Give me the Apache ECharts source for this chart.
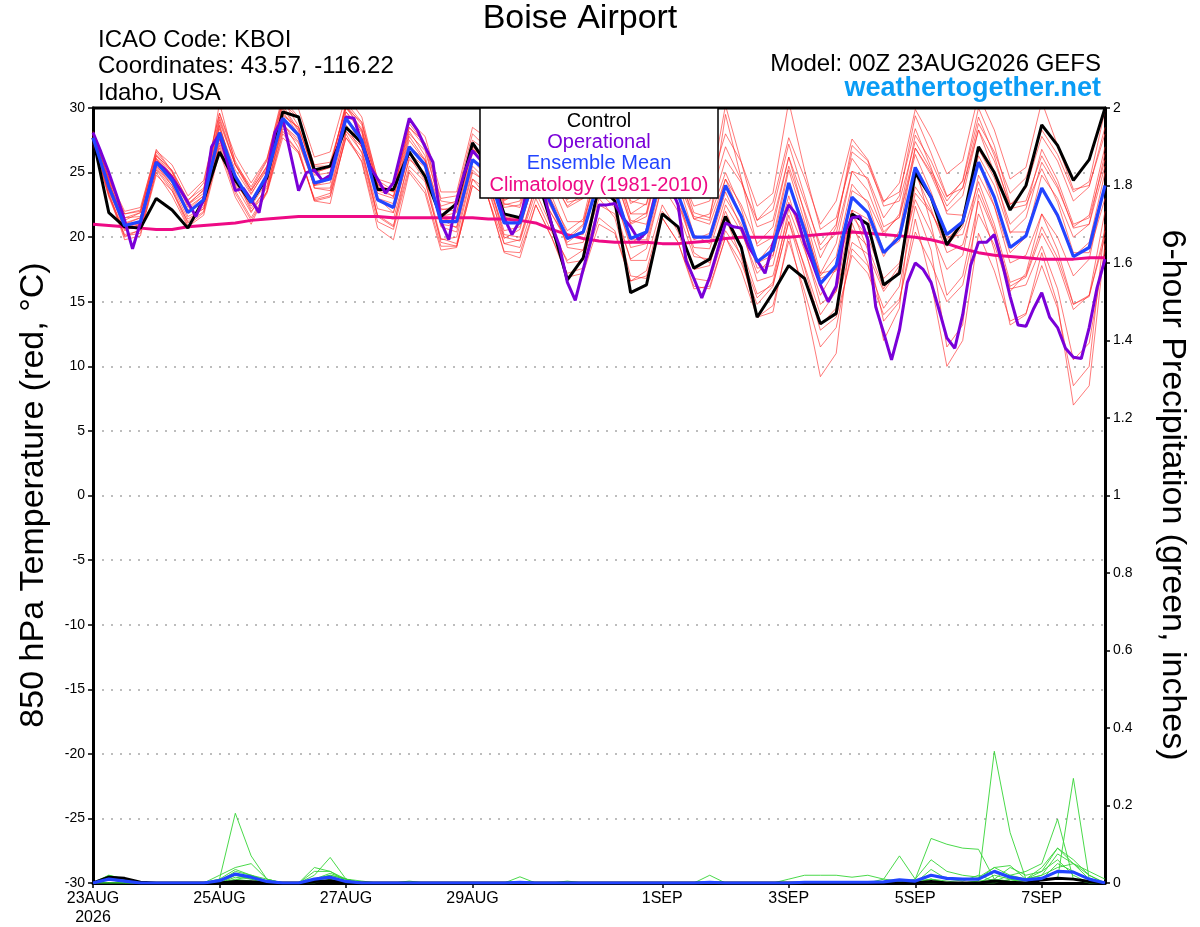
<!DOCTYPE html>
<html>
<head>
<meta charset="utf-8">
<title>Boise Airport</title>
<script src="https://cdn.jsdelivr.net/npm/echarts@6.0.0/dist/echarts.min.js"></script>
<style>
html,body{margin:0;padding:0;background:#fff;}
#chart{width:1200px;height:927px;}
</style>
</head>
<body>
<div id="chart"></div>
<script>
// 3-hourly slots, 00Z 23AUG2026 to 00Z 08SEP2026
var hourCats = [];
for (var h = 0; h <= 384; h += 3) hourCats.push(String(h));

var tickHours = [0, 48, 96, 144, 216, 264, 312, 360];
var tickLabels = ['23AUG\n2026', '25AUG', '27AUG', '29AUG', '1SEP', '3SEP', '5SEP', '7SEP'];

/* 850 hPa temperature, 6-hourly (65 points) */
var tCtrl = [27.7,21.9,20.8,20.7, 23.0,22.1,20.7,22.9, 26.6,24.4,22.7,24.6, 29.7,29.3,25.2,25.5,
             28.5,27.3,23.7,23.7, 26.6,24.7,21.6,22.6, 27.3,25.5,21.8,21.5, 25.0,21.0,16.7,18.4,
             24.0,22.8,15.7,16.3, 21.8,20.8,17.6,18.3, 21.6,19.2,13.8,15.7, 17.8,16.8,13.3,14.1,
             21.8,21.0,16.3,17.2, 25.0,23.1,19.4,21.2, 27.0,25.0,22.1,24.0, 28.7,27.1,24.4,26.0,
             30.0];
var tMean = [27.7,23.9,20.9,21.2, 25.8,24.4,21.9,22.9, 28.1,24.7,22.7,24.8, 29.2,27.9,24.2,24.5,
             29.2,27.5,22.9,22.3, 27.0,25.6,21.2,21.2, 26.0,25.0,21.1,21.1, 25.0,22.5,19.9,20.4,
             24.5,23.6,19.9,20.4, 25.0,23.3,20.0,20.0, 24.0,21.6,18.1,19.0, 24.2,20.5,16.4,17.8,
             23.1,21.9,18.8,20.0, 25.4,23.1,20.2,21.2, 25.8,23.1,19.2,20.1, 23.8,21.7,18.5,19.2,
             24.0];
var tClim = [21.0,20.9,20.8,20.7, 20.6,20.6,20.8,20.9, 21.0,21.1,21.3,21.4, 21.5,21.6,21.6,21.6,
             21.6,21.6,21.6,21.5, 21.5,21.5,21.5,21.5, 21.5,21.4,21.4,21.3, 21.1,20.6,20.2,19.9,
             19.7,19.6,19.6,19.6, 19.5,19.5,19.6,19.7, 19.9,20.0,20.0,20.0, 20.0,20.1,20.2,20.3,
             20.4,20.3,20.2,20.1, 20.0,19.8,19.5,19.1, 18.8,18.6,18.5,18.4, 18.3,18.3,18.3,18.4,
             18.4];
/* operational run, 3-hourly (129 points) */
var tOper = [28.1,26.6,25.0,23.2,21.3,19.1,21.1,23.5, 25.8,25.3,24.6,23.7,22.7,21.6,22.9,27.0,
             28.0,25.8,23.6,23.8,22.9,21.9,25.0,28.1, 29.2,26.4,23.6,25.0,25.2,24.4,24.8,27.0,
             29.3,29.2,27.3,25.5,24.5,23.4,24.2,26.7, 29.2,28.3,27.0,25.8,21.2,19.8,22.9,25.0,
             26.7,26.0,25.0,23.5,21.5,20.2,21.3,24.0, 24.5,23.5,21.0,19.3,16.5,15.1,17.5,19.8,
             22.5,22.5,22.6,21.5,20.8,19.8,20.4,23.0, 24.5,24.0,22.5,18.2,16.8,15.3,16.9,19.0,
             21.1,20.8,20.7,19.2,18.2,17.2,19.5,21.0, 22.5,21.7,19.5,18.0,16.3,15.0,16.2,20.3,
             21.5,21.6,19.8,14.6,12.6,10.5,12.8,16.5, 18.0,17.5,16.5,14.4,12.2,11.4,14.0,17.8,
             19.6,19.6,20.2,18.0,15.4,13.2,13.1,14.5, 15.7,13.8,13.0,11.4,10.7,10.6,13.0,16.1,
             18.3];

/* ensemble members, 6-hourly */
var ens01 = [28.0,24.5,21.5,21.9, 26.6,25.1,22.9,23.8, 29.3,25.6,23.6,25.5, 30.6,28.6,24.8,25.0,
             29.7,28.1,23.6,23.2, 28.0,26.7,22.4,22.8, 27.5,26.6,22.9,23.3, 27.0,24.7,22.3,23.0,
             27.0,26.3,22.6,23.3, 28.0,26.5,23.3,23.5, 30.2,25.8,21.3,22.1, 27.2,23.2,19.0,20.3,
             25.1,23.6,20.4,21.6, 26.9,24.8,22.0,23.2, 28.3,25.9,22.5,23.8, 27.8,25.9,22.8,23.9,
             28.5];
var ens02 = [27.4,23.3,20.2,20.5, 25.3,23.8,21.1,22.0, 27.1,23.6,21.5,23.5, 28.0,26.6,22.8,23.1,
             27.7,25.9,21.2,20.6, 25.2,23.7,19.3,19.3, 24.0,23.0,18.9,18.8, 22.5,20.0,17.2,17.6,
             21.5,20.5,16.6,17.0, 21.5,19.6,16.0,16.2, 20.0,17.4,13.8,14.7, 19.7,15.8,11.5,13.0,
             19.1,17.8,14.5,16.2, 22.4,19.0,11.5,13.2, 23.3,20.4,16.2,16.9, 20.3,18.0,14.4,15.5,
             22.0];
var ens03 = [27.9,24.3,21.1,21.5, 26.3,24.8,22.0,22.8, 28.1,24.5,22.4,24.3, 28.7,27.6,24.1,24.8,
             29.7,28.3,24.0,23.6, 28.5,27.3,23.0,23.2, 28.0,26.8,22.6,22.3, 26.0,23.2,20.2,20.2,
             24.5,23.2,19.2,19.5, 24.0,22.0,18.5,18.3, 22.0,19.2,15.6,16.3, 21.2,17.0,12.8,13.8,
             18.6,17.2,14.0,15.2, 20.4,18.0,15.0,16.3, 21.8,19.4,15.8,17.2, 21.8,20.0,17.0,18.3,
             24.0];
var ens04 = [27.5,24.0,21.0,21.5, 26.0,24.8,22.5,23.7, 28.9,25.6,23.7,25.9, 30.4,29.2,25.6,25.8,
             30.0,28.9,24.1,23.1, 27.5,25.9,21.0,20.8, 25.5,24.3,20.0,19.7, 23.5,20.8,18.0,18.2,
             22.5,21.8,18.3,19.1, 24.0,22.6,19.8,20.3, 24.5,22.5,19.5,20.8, 26.2,22.8,19.4,21.0,
             26.6,25.6,22.7,24.2, 29.9,27.7,24.9,25.9, 31.0,28.3,24.5,25.4, 30.5,27.1,23.7,24.0,
             28.0];
var ens05 = [28.1,23.5,20.0,20.6, 25.0,23.2,20.8,21.7, 26.6,23.1,21.0,23.6, 28.7,27.4,24.0,24.8,
             30.0,28.4,23.9,23.5, 28.8,27.2,22.8,22.6, 27.0,25.7,21.6,21.0, 24.5,22.2,20.0,21.0,
             26.0,25.3,21.8,22.6, 27.5,25.6,21.9,21.5, 25.0,22.2,18.0,18.6, 23.2,19.2,14.8,15.8,
             20.6,19.3,16.0,17.8, 23.9,22.0,19.3,20.8, 26.3,24.0,20.3,21.5, 25.8,23.8,20.8,21.7,
             27.0];
var ens06 = [27.7,24.1,21.3,21.9, 26.3,25.2,22.8,24.2, 29.6,26.3,24.2,26.1, 30.7,29.3,25.5,25.5,
             30.2,28.2,23.0,21.9, 26.5,24.7,19.9,19.5, 24.5,23.0,18.8,18.4, 22.5,20.0,16.9,17.2,
             21.0,20.3,16.6,17.4, 22.0,20.7,17.5,17.8, 22.5,20.4,17.2,18.5, 24.2,20.9,17.0,18.5,
             24.1,22.6,18.9,19.7, 24.9,22.2,18.8,19.4, 23.8,20.6,16.0,16.3, 19.3,16.0,10.5,11.8,
             19.0];
var ens07 = [27.2,23.1,20.1,20.3, 24.8,23.6,21.2,22.4, 27.6,24.4,22.6,24.9, 29.5,28.5,25.0,25.4,
             30.4,28.9,24.5,24.1, 29.0,27.8,23.5,23.5, 28.5,27.6,23.8,24.0, 28.0,25.5,22.7,23.0,
             27.0,25.8,21.8,21.8, 26.5,24.3,20.2,19.5, 23.5,20.7,16.6,17.0, 21.7,17.6,13.2,14.5,
             19.6,18.7,15.8,17.5, 23.4,21.9,19.8,21.2, 26.8,24.6,21.0,22.2, 26.8,24.4,21.0,21.5,
             26.0];
var ens08 = [28.0,24.6,21.8,22.1, 26.8,25.1,22.3,23.2, 28.6,24.6,22.0,23.5, 28.2,26.6,22.9,23.2,
             27.7,26.2,21.6,21.4, 26.0,25.0,21.3,21.5, 26.5,25.9,22.3,22.5, 26.5,24.5,22.4,23.4,
             29.5,27.8,23.2,23.8, 30.5,27.6,23.8,24.0, 28.0,25.8,22.4,23.4, 30.5,25.2,20.6,21.5,
             26.1,24.4,20.8,21.5, 26.4,23.5,20.0,20.2, 24.3,21.0,16.5,17.0, 20.8,18.4,14.8,15.5,
             20.0];
var ens09 = [27.6,23.7,20.7,21.1, 25.5,24.2,22.1,23.2, 28.4,25.2,23.3,25.4, 30.0,28.2,23.8,23.8,
             28.7,26.5,21.7,20.9, 25.5,24.3,19.8,20.0, 25.0,24.2,20.5,20.8, 25.0,22.3,19.4,19.6,
             23.5,22.3,18.2,18.2, 22.5,20.4,16.8,16.6, 20.5,18.6,15.3,16.5, 22.2,19.0,15.5,17.6,
             23.6,22.8,20.2,21.8, 27.9,25.9,23.1,24.3, 29.3,26.3,22.2,22.5, 25.3,22.7,18.8,18.8,
             23.0];
var ens10 = [28.2,24.3,21.1,21.0, 26.1,24.5,21.6,22.2, 27.6,24.0,21.9,24.0, 28.4,27.3,24.0,24.5,
             29.2,27.8,23.4,23.0, 27.8,26.0,20.8,20.4, 25.2,24.0,19.5,19.2, 23.0,20.4,18.2,19.0,
             23.5,23.0,19.5,20.4, 25.5,24.3,21.4,21.8, 26.0,24.2,21.3,22.7, 27.7,24.6,21.0,22.8,
             27.6,26.0,22.8,23.5, 28.4,25.4,21.8,21.7, 25.8,22.4,18.0,18.6, 21.8,19.0,14.8,15.4,
             20.5];
var ens11 = [27.4,24.4,21.8,22.0, 26.4,25.0,22.6,23.6, 29.1,25.6,23.4,25.2, 29.7,28.0,23.8,23.6,
             28.2,26.6,22.2,21.9, 26.5,25.4,21.6,21.9, 26.8,26.0,22.5,22.8, 27.0,24.2,21.2,21.2,
             25.5,24.2,19.8,19.8, 24.5,22.6,19.2,19.1, 23.0,21.0,18.0,19.6, 25.2,21.2,16.8,17.4,
             22.1,19.0,13.5,15.0, 21.4,16.5,10.0,12.0, 20.3,17.4,13.5,14.1, 17.8,14.5,8.5,10.0,
             21.0];
var ens12 = [27.8,23.3,19.8,20.1, 25.2,23.6,20.9,21.9, 26.9,23.4,21.3,23.4, 27.7,26.5,23.0,23.4,
             28.2,27.0,23.0,22.6, 27.0,26.0,22.1,22.4, 27.0,25.8,21.6,21.4, 25.5,22.8,19.2,19.0,
             23.0,21.5,17.0,16.8, 21.5,19.6,16.2,16.0, 20.0,18.0,14.8,16.2, 21.2,17.8,14.0,15.8,
             22.1,21.4,18.5,20.5, 26.9,25.0,22.4,23.8, 28.8,26.6,23.4,24.6, 28.3,26.4,23.5,24.3,
             29.8];
var ens13 = [27.9,24.6,22.0,22.3, 26.7,25.6,23.2,24.4, 29.6,25.9,23.6,25.5, 30.2,28.3,24.0,24.2,
             29.4,26.9,21.6,20.8, 26.2,24.4,19.6,19.3, 24.0,23.0,19.5,19.8, 24.0,21.8,19.6,20.5,
             25.0,24.8,21.0,21.6, 26.5,25.3,22.4,22.8, 27.0,24.4,20.8,21.3, 26.2,21.8,17.2,17.5,
             21.6,20.0,16.8,18.0, 22.9,20.4,17.5,18.6, 24.8,22.4,18.8,20.0, 24.8,23.0,20.0,21.0,
             26.5];
var ens14 = [27.3,23.6,20.6,21.0, 25.6,24.0,21.4,22.2, 27.3,24.1,22.6,24.9, 29.4,28.5,25.0,25.4,
             30.2,28.7,24.1,23.5, 28.2,26.3,21.4,20.7, 26.0,24.5,20.2,20.0, 24.0,21.8,19.8,20.9,
             25.5,24.8,21.1,21.9, 27.0,25.0,21.4,21.0, 24.5,21.6,17.6,17.8, 22.7,19.8,17.2,19.5,
             25.1,24.6,21.5,23.2, 29.4,26.5,23.2,23.8, 28.3,25.0,20.4,20.4, 23.8,21.5,18.5,19.6,
             25.0];
var ens15 = [27.7,24.2,21.5,21.6, 26.1,24.8,22.5,23.4, 28.7,24.6,22.2,23.8, 28.9,26.9,22.8,22.6,
             28.0,25.8,20.7,19.8, 25.0,23.4,19.0,19.2, 24.5,23.6,19.9,20.6, 25.0,22.8,20.5,21.4,
             26.5,25.4,21.3,21.0, 25.5,23.2,18.8,18.0, 21.5,18.4,13.8,14.2, 20.2,15.2,9.2,11.0,
             21.1,18.0,12.0,14.5, 25.4,21.0,15.5,17.0, 22.8,19.0,13.2,14.0, 18.8,14.8,7.0,8.5,
             19.5];
var ens16 = [27.5,23.2,20.5,21.0, 25.4,24.0,21.9,23.0, 30.4,25.7,23.9,26.0, 31.0,29.9,26.2,26.6,
             31.0,29.3,24.4,23.6, 28.5,27.0,22.2,22.0, 26.8,26.0,22.8,23.6, 27.5,25.0,22.9,23.9,
             30.5,27.5,22.8,22.5, 26.8,25.0,21.6,21.3, 29.5,24.5,19.3,20.0, 25.5,22.0,18.4,20.8,
             27.1,25.9,22.4,22.8, 27.4,25.2,22.8,24.4, 30.0,27.1,22.6,22.8, 26.3,24.0,20.7,21.0,
             25.5];

/* 6-hour precipitation (inches), 6-hourly */
var pcp01 = [0,0.02,0.01,0,0,0,0,0,0.01,0.18,0.07,0.01,0,0,0.01,0.02,
             0.01,0,0,0,0,0,0,0,0,0,0,0,0,0,0,0,
             0,0,0,0,0,0,0,0,0,0,0,0,0,0,0,0,
             0,0,0,0,0,0.01,0,0,0.005,0.34,0.13,0.01,0.03,0.06,0.02,0,
             0];
var pcp02 = [0,0.015,0.005,0,0,0,0,0,0.02,0.04,0.05,0.01,0,0,0.04,0.03,
             0.01,0,0,0,0,0,0,0,0,0,0,0,0,0,0,0,
             0,0,0,0,0,0,0,0,0,0,0,0,0,0,0,0,
             0,0,0,0,0.01,0.115,0.1,0.09,0.087,0.01,0.04,0.02,0.03,0.09,0.05,0.01,
             0];
var pcp03 = [0,0.01,0,0,0,0,0,0,0.01,0.035,0.02,0.005,0,0,0.02,0.066,
             0.01,0.005,0,0,0,0,0,0,0,0,0,0,0,0,0,0,
             0,0,0,0,0,0,0,0.02,0,0,0,0,0,0,0,0,
             0,0,0,0,0,0.035,0.01,0.005,0.02,0.005,0.02,0.03,0.05,0.165,0.01,0,
             0];
var pcp04 = [0,0,0,0,0,0,0,0,0.005,0.03,0.02,0.01,0,0,0.03,0.03,
             0.005,0,0,0,0,0,0,0,0,0,0,0.016,0,0,0,0,
             0,0,0,0,0,0,0,0,0,0,0,0,0.01,0.02,0.02,0.02,
             0.015,0.02,0.01,0.005,0,0,0,0,0,0,0.01,0.005,0.01,0.01,0.27,0.01,
             0];
var pcp05 = [0,0.02,0.01,0,0,0,0,0,0,0.02,0.01,0,0,0,0.01,0.025,
             0.01,0,0,0,0,0,0,0,0,0,0,0,0,0,0,0,
             0,0,0,0,0,0,0,0,0,0,0,0,0,0,0,0,
             0,0,0.01,0.07,0.01,0.06,0.03,0.02,0.015,0.04,0.045,0.01,0.04,0.09,0.06,0.02,
             0];
var pcp06 = [0,0,0,0,0,0,0,0,0,0.015,0.01,0,0,0,0.005,0.015,
             0.005,0,0,0,0,0,0,0,0,0,0,0,0,0,0.005,0,
             0,0,0,0,0,0,0,0,0,0,0,0,0,0,0,0,
             0,0,0,0,0,0.02,0.01,0.01,0.01,0.04,0.02,0.01,0.02,0.075,0.05,0.02,
             0];
var pcp07 = [0,0.01,0.005,0,0,0,0,0,0,0.01,0.005,0,0,0,0,0.01,
             0,0,0,0,0.005,0,0,0,0,0,0,0,0,0,0,0,
             0,0,0,0,0,0,0,0,0,0,0,0,0,0,0,0,
             0,0,0,0,0,0.01,0,0,0,0.02,0.01,0,0.01,0.05,0.03,0.01,
             0];
var pcp08 = [0,0,0,0,0,0,0,0,0,0.008,0.02,0.005,0,0,0.01,0.02,
             0.01,0,0,0,0,0,0,0,0,0,0,0,0,0,0,0,
             0,0,0,0,0,0,0,0,0,0,0,0,0,0,0,0,
             0,0,0,0.005,0.005,0.01,0.005,0,0.005,0.01,0.005,0.01,0.02,0.04,0.05,0.03,
             0.01];
var pcpMean = [0,0.01,0.005,0,0,0,0,0,0.006,0.023,0.015,0.004,0,0,0.01,0.015,
               0.004,0,0,0,0,0,0,0,0,0,0,0.002,0,0,0,0,
               0,0,0,0,0,0,0,0.002,0,0,0,0,0,0.002,0.002,0.002,
               0.002,0.002,0.003,0.008,0.005,0.02,0.012,0.01,0.01,0.03,0.015,0.008,0.012,0.03,0.028,0.01,
               0];
var pcpCtrl = [0,0.015,0.012,0.002,0,0,0,0,0,0.004,0.003,0,0,0,0.004,0.006,
               0.002,0,0,0,0,0,0,0,0,0,0,0,0,0,0,0,
               0,0,0,0,0,0,0,0,0,0,0,0,0,0,0,0,
               0,0,0,0,0,0.004,0,0,0,0.005,0.002,0,0.008,0.012,0.01,0.004,
               0];

var ensTemp = [ens01,ens02,ens03,ens04,ens05,ens06,ens07,ens08,ens09,ens10,ens11,ens12,ens13,ens14,ens15,ens16];
var ensPcp = [pcp01,pcp02,pcp03,pcp04,pcp05,pcp06,pcp07,pcp08];

var FONT = 'Liberation Sans, Arial, Helvetica, sans-serif';
var tickIdx = tickHours.map(function(h){ return h / 3; });

// 6-hourly values sit on every second 3-hourly slot
function six(vals){
    return vals.map(function(v, k){ return [2 * k, v]; });
}

var seri = [];
for (var i = 0; i < ensTemp.length; i++) {
    seri.push({name:'ens' + (i + 1), type:'line', yAxisIndex:0, data:six(ensTemp[i]), symbol:'none',
        silent:true, z:2, lineStyle:{color:'rgba(255,40,40,0.78)', width:0.8}});
}
for (var j = 0; j < ensPcp.length; j++) {
    seri.push({name:'pcp' + (j + 1), type:'line', yAxisIndex:1, data:six(ensPcp[j]), symbol:'none',
        silent:true, z:3, lineStyle:{color:'#35d535', width:0.9}});
}
seri.push({name:'Climatology', type:'line', yAxisIndex:0, data:six(tClim), symbol:'none', z:4,
    lineStyle:{color:'#ee0a85', width:3}});
seri.push({name:'Control', type:'line', yAxisIndex:0, data:six(tCtrl), symbol:'none', z:5,
    lineStyle:{color:'#000', width:3}});
seri.push({name:'Operational', type:'line', yAxisIndex:0, data:tOper, symbol:'none', z:6,
    lineStyle:{color:'#7a00d8', width:3}});
seri.push({name:'Ensemble Mean', type:'line', yAxisIndex:0, data:six(tMean), symbol:'none', z:7,
    lineStyle:{color:'#2244ff', width:3.2}});
seri.push({name:'Control pcp', type:'line', yAxisIndex:1, data:six(pcpCtrl), symbol:'none', z:6,
    lineStyle:{color:'#000', width:3}});
seri.push({name:'Mean pcp', type:'line', yAxisIndex:1, data:six(pcpMean), symbol:'none', z:7,
    lineStyle:{color:'#2244ff', width:3.2}});

var option = {
    animation:false,
    backgroundColor:'#fff',
    textStyle:{fontFamily:FONT},
    grid:{left:93, right:95, top:108, bottom:44, show:false},
    xAxis:{
        type:'category', data:hourCats, boundaryGap:false,
        axisLine:{onZero:false, lineStyle:{color:'#000', width:3}},
        axisTick:{interval:function(idx){ return tickIdx.indexOf(idx) >= 0; }, length:5, lineStyle:{color:'#000', width:1.5}},
        axisLabel:{interval:function(idx){ return tickIdx.indexOf(idx) >= 0; },
            formatter:function(v, idx){ var k = tickIdx.indexOf(idx); return k >= 0 ? tickLabels[k] : ''; },
            color:'#000', fontSize:16, lineHeight:19, margin:6, fontFamily:FONT},
        splitLine:{show:false}
    },
    yAxis:[
        {type:'value', position:'left', min:-30, max:30, interval:5,
         axisLine:{show:true, lineStyle:{color:'#000', width:3}},
         axisTick:{show:true, length:5, lineStyle:{color:'#000', width:1.5}},
         axisLabel:{color:'#000', fontSize:14, margin:8, fontFamily:FONT},
         splitLine:{show:true, showMinLine:false, showMaxLine:false, lineStyle:{color:'#a8a8a8', width:1.5, type:[2, 7]}}},
        {type:'value', position:'right', min:0, max:2, interval:0.2,
         axisLine:{show:true, lineStyle:{color:'#000', width:3}},
         axisTick:{show:true, length:5, lineStyle:{color:'#000', width:1.5}},
         axisLabel:{color:'#000', fontSize:14, margin:8, fontFamily:FONT},
         splitLine:{show:false}}
    ],
    graphic:[
        {type:'line', z:90, shape:{x1:92, y1:108, x2:1106, y2:108}, style:{stroke:'#000', lineWidth:3}},
        {type:'text', x:580, y:19, z:100, style:{text:'Boise Airport', font:'34px ' + FONT, fill:'#000', textAlign:'center', textVerticalAlign:'middle'}},
        {type:'text', x:98, y:40, z:100, style:{text:'ICAO Code: KBOI', font:'24px ' + FONT, fill:'#000', textVerticalAlign:'middle'}},
        {type:'text', x:98, y:66, z:100, style:{text:'Coordinates: 43.57, -116.22', font:'24px ' + FONT, fill:'#000', textVerticalAlign:'middle'}},
        {type:'text', x:98, y:93, z:100, style:{text:'Idaho, USA', font:'24px ' + FONT, fill:'#000', textVerticalAlign:'middle'}},
        {type:'text', x:1101, y:64, z:100, style:{text:'Model: 00Z 23AUG2026 GEFS', font:'24px ' + FONT, fill:'#000', textAlign:'right', textVerticalAlign:'middle'}},
        {type:'text', x:1101, y:89, z:100, style:{text:'weathertogether.net', font:'bold 27px ' + FONT, fill:'#0a9cf5', textAlign:'right', textVerticalAlign:'middle'}},
        {type:'rect', z:100, shape:{x:480, y:108, width:238, height:90}, style:{fill:'#fff', stroke:'#000', lineWidth:1.5}},
        {type:'text', x:599, y:121, z:101, style:{text:'Control', font:'20px ' + FONT, fill:'#000', textAlign:'center', textVerticalAlign:'middle'}},
        {type:'text', x:599, y:142, z:101, style:{text:'Operational', font:'20px ' + FONT, fill:'#7a00d8', textAlign:'center', textVerticalAlign:'middle'}},
        {type:'text', x:599, y:163, z:101, style:{text:'Ensemble Mean', font:'20px ' + FONT, fill:'#2244ff', textAlign:'center', textVerticalAlign:'middle'}},
        {type:'text', x:599, y:185, z:101, style:{text:'Climatology (1981-2010)', font:'20px ' + FONT, fill:'#ee0a85', textAlign:'center', textVerticalAlign:'middle'}},
        {type:'text', x:34, y:495, rotation:Math.PI / 2, z:100, style:{text:'850 hPa Temperature (red, °C)', font:'34px ' + FONT, fill:'#000', textAlign:'center', textVerticalAlign:'middle'}},
        {type:'text', x:1172, y:495, rotation:-Math.PI / 2, z:100, style:{text:'6-hour Precipitation (green, inches)', font:'34px ' + FONT, fill:'#000', textAlign:'center', textVerticalAlign:'middle'}}
    ],
    series:seri
};

var myChart = echarts.init(document.getElementById('chart'), null, {renderer:'canvas'});
myChart.setOption(option);
</script>
</body>
</html>
